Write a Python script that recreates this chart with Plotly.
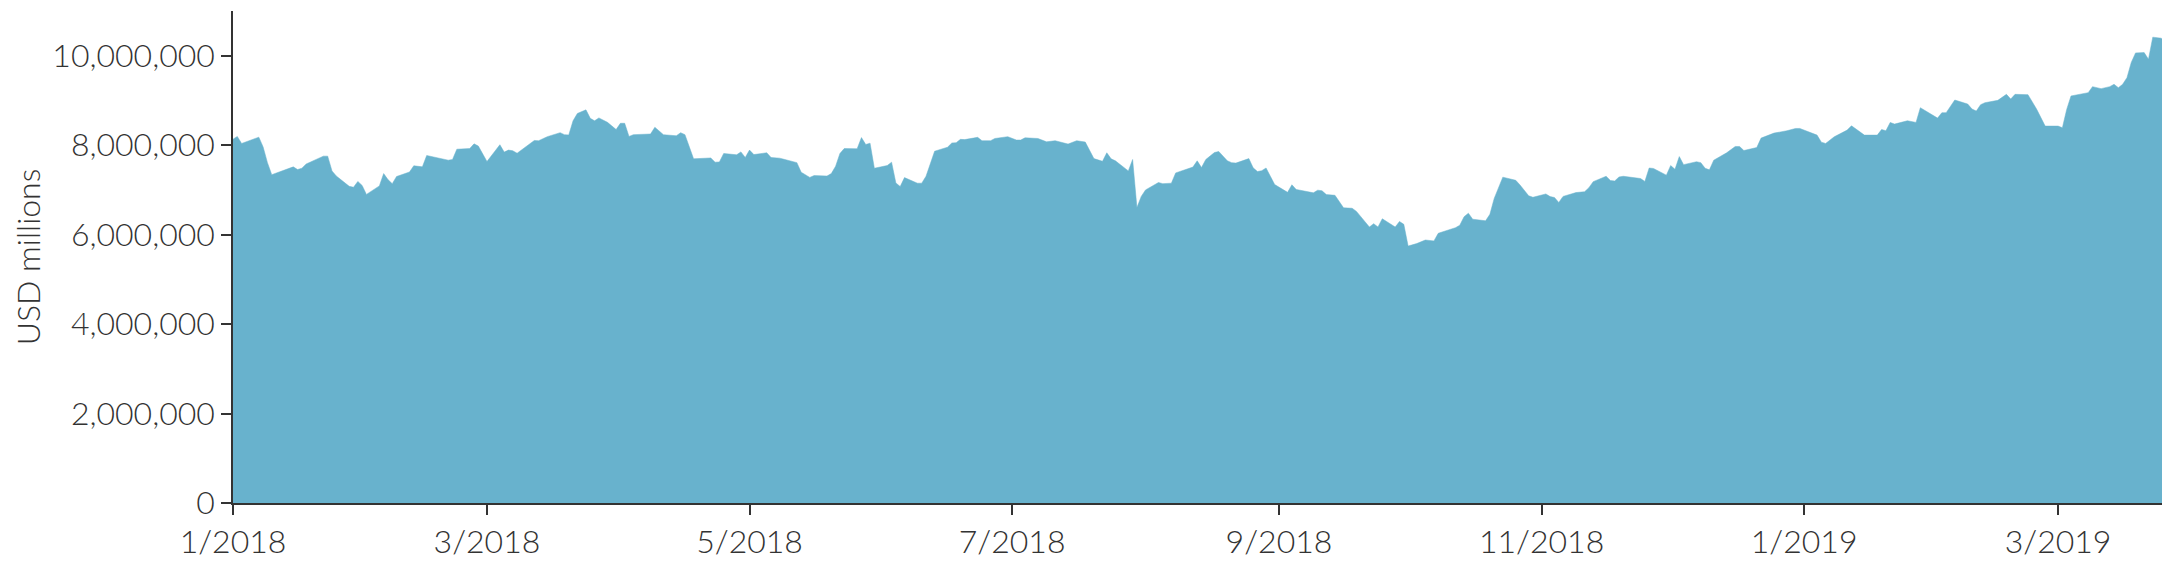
import plotly.graph_objects as go

dates = [
    "2018-01-01", "2018-01-02", "2018-01-03", "2018-01-07", "2018-01-08", "2018-01-09", "2018-01-10",
    "2018-01-15", "2018-01-16", "2018-01-17", "2018-01-18", "2018-01-22", "2018-01-23", "2018-01-24",
    "2018-01-25", "2018-01-28", "2018-01-29", "2018-01-30", "2018-01-31", "2018-02-01", "2018-02-04",
    "2018-02-05", "2018-02-06", "2018-02-07", "2018-02-08", "2018-02-11", "2018-02-12", "2018-02-13",
    "2018-02-14", "2018-02-15", "2018-02-20", "2018-02-21", "2018-02-22", "2018-02-25", "2018-02-26",
    "2018-02-27", "2018-03-01", "2018-03-04", "2018-03-05", "2018-03-06", "2018-03-07", "2018-03-08",
    "2018-03-12", "2018-03-13", "2018-03-15", "2018-03-18", "2018-03-19", "2018-03-20", "2018-03-21",
    "2018-03-22", "2018-03-24", "2018-03-25", "2018-03-26", "2018-03-27", "2018-03-29", "2018-03-31",
    "2018-04-01", "2018-04-02", "2018-04-03", "2018-04-04", "2018-04-08", "2018-04-09", "2018-04-11",
    "2018-04-14", "2018-04-15", "2018-04-16", "2018-04-17", "2018-04-18", "2018-04-22", "2018-04-23",
    "2018-04-24", "2018-04-25", "2018-04-28", "2018-04-29", "2018-04-30", "2018-05-01", "2018-05-02",
    "2018-05-05", "2018-05-06", "2018-05-08", "2018-05-09", "2018-05-12", "2018-05-13", "2018-05-15",
    "2018-05-16", "2018-05-19", "2018-05-20", "2018-05-21", "2018-05-22", "2018-05-23", "2018-05-26",
    "2018-05-27", "2018-05-28", "2018-05-29", "2018-05-30", "2018-06-02", "2018-06-03", "2018-06-04",
    "2018-06-05", "2018-06-06", "2018-06-09", "2018-06-10", "2018-06-11", "2018-06-12", "2018-06-13",
    "2018-06-16", "2018-06-17", "2018-06-18", "2018-06-19", "2018-06-20", "2018-06-23", "2018-06-24",
    "2018-06-26", "2018-06-27", "2018-06-30", "2018-07-02", "2018-07-03", "2018-07-04", "2018-07-07",
    "2018-07-09", "2018-07-11", "2018-07-14", "2018-07-16", "2018-07-18", "2018-07-20", "2018-07-22",
    "2018-07-23", "2018-07-24", "2018-07-25", "2018-07-28", "2018-07-29", "2018-07-30", "2018-07-31",
    "2018-08-01", "2018-08-04", "2018-08-05", "2018-08-07", "2018-08-08", "2018-08-11", "2018-08-12",
    "2018-08-13", "2018-08-14", "2018-08-15", "2018-08-17", "2018-08-18", "2018-08-20", "2018-08-21",
    "2018-08-22", "2018-08-25", "2018-08-26", "2018-08-27", "2018-08-28", "2018-08-29", "2018-08-31",
    "2018-09-03", "2018-09-04", "2018-09-05", "2018-09-09", "2018-09-10", "2018-09-11", "2018-09-12",
    "2018-09-14", "2018-09-16", "2018-09-18", "2018-09-19", "2018-09-22", "2018-09-23", "2018-09-24",
    "2018-09-25", "2018-09-28", "2018-09-29", "2018-09-30", "2018-10-01", "2018-10-03", "2018-10-05",
    "2018-10-07", "2018-10-08", "2018-10-12", "2018-10-13", "2018-10-14", "2018-10-15", "2018-10-16",
    "2018-10-19", "2018-10-20", "2018-10-21", "2018-10-22", "2018-10-23", "2018-10-26", "2018-10-27",
    "2018-10-29", "2018-10-30", "2018-11-02", "2018-11-03", "2018-11-04", "2018-11-05", "2018-11-06",
    "2018-11-09", "2018-11-11", "2018-11-12", "2018-11-13", "2018-11-16", "2018-11-17", "2018-11-18",
    "2018-11-19", "2018-11-20", "2018-11-24", "2018-11-25", "2018-11-26", "2018-11-27", "2018-11-30",
    "2018-12-01", "2018-12-02", "2018-12-03", "2018-12-04", "2018-12-07", "2018-12-08", "2018-12-09",
    "2018-12-10", "2018-12-11", "2018-12-14", "2018-12-16", "2018-12-17", "2018-12-18", "2018-12-21",
    "2018-12-22", "2018-12-25", "2018-12-28", "2018-12-30", "2018-12-31", "2019-01-04", "2019-01-05",
    "2019-01-06", "2019-01-08", "2019-01-11", "2019-01-12", "2019-01-15", "2019-01-18", "2019-01-19",
    "2019-01-20", "2019-01-21", "2019-01-22", "2019-01-25", "2019-01-27", "2019-01-28", "2019-02-01",
    "2019-02-02", "2019-02-03", "2019-02-05", "2019-02-08", "2019-02-09", "2019-02-10", "2019-02-11",
    "2019-02-12", "2019-02-15", "2019-02-17", "2019-02-18", "2019-02-19", "2019-02-22", "2019-02-24",
    "2019-02-26", "2019-03-01", "2019-03-02", "2019-03-03", "2019-03-04", "2019-03-08", "2019-03-09",
    "2019-03-11", "2019-03-13", "2019-03-14", "2019-03-15", "2019-03-16", "2019-03-17", "2019-03-18",
    "2019-03-19", "2019-03-21", "2019-03-22", "2019-03-23", "2019-03-25", "2019-03-27",
]

values = [
    8134000, 8195000, 8038000, 8180000, 7960000, 7610000, 7340000,
    7515000, 7455000, 7485000, 7580000, 7755000, 7755000, 7425000,
    7310000, 7080000, 7060000, 7190000, 7100000, 6900000, 7090000,
    7365000, 7230000, 7140000, 7300000, 7400000, 7540000, 7530000,
    7515000, 7770000, 7665000, 7680000, 7910000, 7925000, 8030000,
    7980000, 7635000, 8010000, 7845000, 7890000, 7875000, 7820000,
    8105000, 8100000, 8190000, 8280000, 8235000, 8230000, 8545000,
    8710000, 8790000, 8600000, 8545000, 8610000, 8510000, 8350000,
    8490000, 8490000, 8195000, 8235000, 8250000, 8400000, 8235000,
    8210000, 8280000, 8235000, 7970000, 7695000, 7715000, 7620000,
    7625000, 7815000, 7785000, 7850000, 7725000, 7890000, 7790000,
    7830000, 7725000, 7710000, 7685000, 7610000, 7395000, 7280000,
    7320000, 7310000, 7365000, 7530000, 7815000, 7925000, 7920000,
    8170000, 8015000, 8045000, 7485000, 7545000, 7620000, 7155000,
    7075000, 7275000, 7150000, 7150000, 7305000, 7610000, 7865000,
    7955000, 8050000, 8055000, 8130000, 8125000, 8175000, 8100000,
    8100000, 8150000, 8190000, 8115000, 8115000, 8165000, 8150000,
    8075000, 8100000, 8025000, 8100000, 8070000, 7700000, 7640000,
    7830000, 7695000, 7650000, 7425000, 7680000, 6605000, 6855000,
    7000000, 7165000, 7140000, 7150000, 7380000, 7475000, 7510000,
    7650000, 7500000, 7680000, 7835000, 7860000, 7650000, 7610000,
    7600000, 7700000, 7495000, 7410000, 7430000, 7490000, 7120000,
    6945000, 7115000, 7010000, 6935000, 6995000, 6980000, 6895000,
    6880000, 6600000, 6590000, 6520000, 6170000, 6245000, 6170000,
    6355000, 6170000, 6295000, 6230000, 5745000, 5800000, 5880000,
    5860000, 6030000, 6155000, 6210000, 6400000, 6480000, 6345000,
    6310000, 6455000, 6810000, 7030000, 7285000, 7215000, 7110000,
    6870000, 6835000, 6910000, 6850000, 6830000, 6720000, 6855000,
    6940000, 6960000, 7050000, 7185000, 7305000, 7210000, 7200000,
    7290000, 7305000, 7255000, 7190000, 7490000, 7480000, 7330000,
    7545000, 7460000, 7745000, 7565000, 7630000, 7610000, 7485000,
    7448000, 7664000, 7829000, 7971000, 7971000, 7881000, 7948000,
    8158000, 8270000, 8322000, 8374000, 8374000, 8225000, 8068000,
    8038000, 8188000, 8337000, 8434000, 8225000, 8225000, 8352000,
    8322000, 8509000, 8471000, 8546000, 8509000, 8838000, 8605000,
    8726000, 8726000, 9010000, 8920000, 8808000, 8763000, 8905000,
    8950000, 9002000, 9137000, 9032000, 9137000, 9130000, 8808000,
    8427000, 8427000, 8390000, 8800000, 9100000, 9174000, 9309000,
    9264000, 9309000, 9361000, 9286000, 9361000, 9510000, 9850000,
    10063000, 10070000, 9922000, 10415000, 10392000, 10078000,
]

y_ticks = [0, 2000000, 4000000, 6000000, 8000000, 10000000]
x_tick_dates = ["2018-01-01", "2018-03-01", "2018-05-01", "2018-07-01", "2018-09-01",
                "2018-11-01", "2019-01-01", "2019-03-01"]
x_tick_labels = ["1/2018", "3/2018", "5/2018", "7/2018", "9/2018", "11/2018", "1/2019", "3/2019"]
y_title = "USD millions"

FILL = "#68b2cd"
INK = "#333333"
FONT = dict(family="Lato", size=32, color=INK, weight=300)

fig = go.Figure()
fig.add_trace(go.Scatter(
    x=dates, y=values, mode="lines", fill="tozeroy",
    fillcolor=FILL, line=dict(color=FILL, width=0.5),
    hoverinfo="skip", showlegend=False,
))

axis_common = dict(
    showline=True, linecolor=INK, linewidth=1.5,
    ticks="outside", ticklen=10, tickwidth=1.5, tickcolor=INK,
    showgrid=False, zeroline=False, tickfont=FONT,
)

fig.update_layout(
    width=2170, height=561,
    margin=dict(l=225, r=8, t=3, b=66, pad=0),
    paper_bgcolor="white", plot_bgcolor="white",
    font=FONT,
    xaxis=dict(
        range=[dates[0], dates[-1]], tickvals=x_tick_dates, ticktext=x_tick_labels,
        **axis_common,
    ),
    yaxis=dict(
        range=[0, 11000000], tickvals=y_ticks, tickformat=",",
        title=dict(text=y_title, font=FONT, standoff=6),
        **axis_common,
    ),
)

fig.write_html("out.html")
